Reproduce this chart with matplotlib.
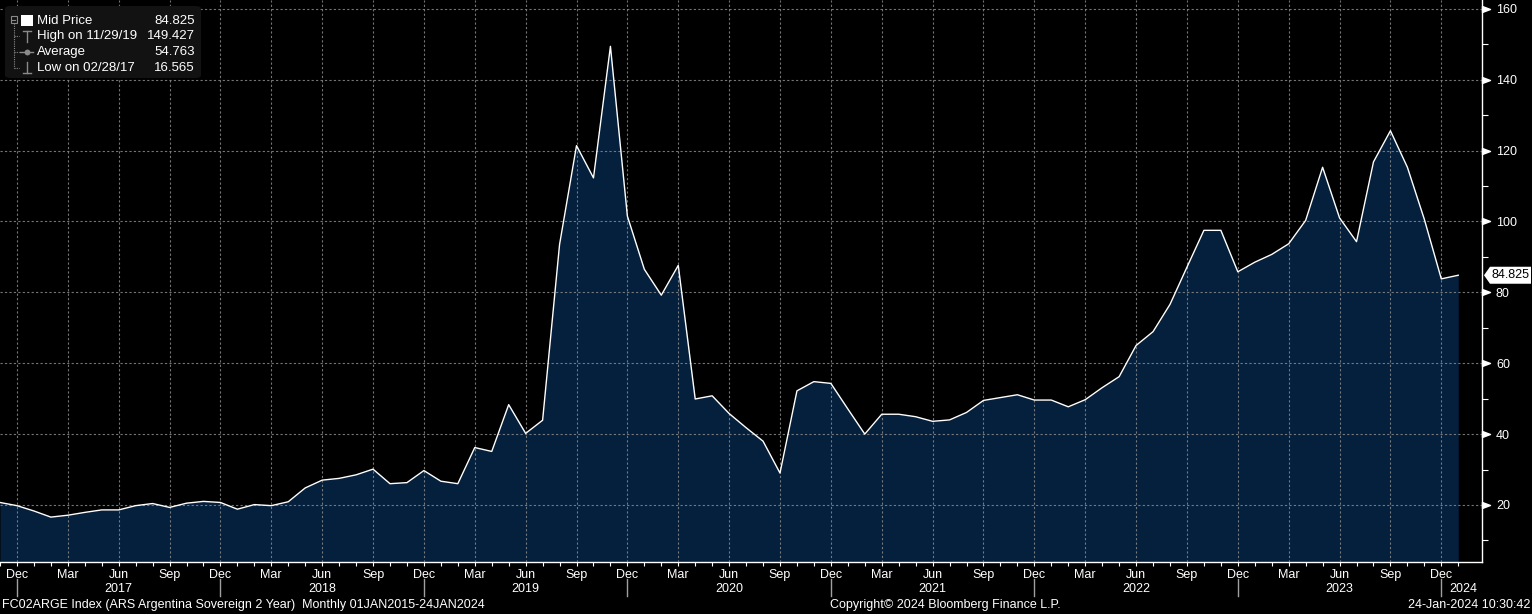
import numpy as np
import pandas as pd
from matplotlib import pyplot as plt
from matplotlib.transforms import blended_transform_factory
from matplotlib.patches import FancyBboxPatch, Polygon, Rectangle
from matplotlib.path import Path

# monthly mid price, Nov 2016 .. Jan 2024 (month-end values)
first_month = '2016-11-30'
mid_price = [20.7, 19.8,
             18.3, 16.57, 17.1, 17.9, 18.6, 18.6, 19.8, 20.4, 19.3, 20.5, 21.0, 20.7,
             18.8, 20.1, 19.8, 20.9, 24.8, 27.0, 27.5, 28.5, 30.1, 26.0, 26.3, 29.7,
             26.7, 26.0, 36.2, 35.1, 48.3, 40.2, 43.9, 93.5, 121.4, 112.3, 149.43, 101.5,
             86.5, 79.2, 87.6, 49.9, 50.8, 45.8, 41.8, 38.0, 29.0, 52.2, 54.8, 54.3,
             47.1, 40.0, 45.6, 45.6, 44.9, 43.6, 44.0, 46.1, 49.5, 50.3, 51.1, 49.6,
             49.6, 47.7, 49.7, 53.1, 56.2, 65.0, 68.9, 76.6, 87.1, 97.5, 97.5, 85.8,
             88.5, 90.7, 93.7, 100.3, 115.3, 101.0, 94.3, 116.8, 125.6, 115.3, 100.6, 83.8,
             84.825]

legend_rows = ['Mid Price', 'High on 11/29/19', 'Average', 'Low on 02/28/17']
legend_vals = ['84.825', '149.427', '54.763', '16.565']
y_ticks = [20, 40, 60, 80, 100, 120, 140, 160]

footer_left = 'FC02ARGE Index (ARS Argentina Sovereign 2 Year)  Monthly 01JAN2015-24JAN2024'
footer_mid = 'Copyright\u00a9 2024 Bloomberg Finance L.P.'
footer_right = '24-Jan-2024 10:30:42'

W, H = 1532, 614
FILL = '#04203d'
GRID = '#8a8a8a'
FONT = 'Liberation Sans'

plt.rcParams['font.family'] = [FONT, 'DejaVu Sans']

dates = pd.date_range(first_month, periods=len(mid_price), freq='ME')
x = np.arange(len(mid_price))

fig = plt.figure(figsize=(W / 100, H / 100), dpi=100, facecolor='black')
ax = fig.add_axes([0, (H - 562) / H, 1482 / W, 562 / H])
ax.set_facecolor('black')

ax.fill_between(x, mid_price, 0, color=FILL, lw=0, zorder=1)
ax.plot(x, mid_price, color='white', lw=1.0, zorder=3)

ax.set_xlim(0, 87.4)
ax.set_ylim(3.9, 162.5)

# x ticks: quarterly labels, monthly minor ticks
major = [i for i, d in enumerate(dates) if d.month in (3, 6, 9, 12)]
ax.set_xticks(major)
ax.set_xticklabels([dates[i].strftime('%b') for i in major])
ax.set_xticks(x, minor=True)
ax.tick_params(axis='x', which='both', colors='white', length=3, width=0.8,
               labelsize=9, pad=2)

# y axis on the right
ax.yaxis.tick_right()
ax.set_yticks(y_ticks)
ax.set_yticks(np.arange(10, 160, 20), minor=True)
ax.tick_params(axis='y', which='major', length=0, pad=10, labelsize=9, colors='white')
ax.tick_params(axis='y', which='minor', length=4, width=0.8, colors='white')

for s in ['left', 'top']:
    ax.spines[s].set_visible(False)
for s in ['right', 'bottom']:
    ax.spines[s].set_color('white')
    ax.spines[s].set_linewidth(1.0)

ax.grid(True, which='major', color=GRID, linestyle=(0, (2, 2)), lw=0.8, alpha=0.85, zorder=2)
ax.set_axisbelow(False)

# triangle markers on right axis
tri = Path([(0, -3), (8, 0), (0, 3), (0, -3)], [Path.MOVETO, Path.LINETO, Path.LINETO, Path.CLOSEPOLY])
yb = blended_transform_factory(ax.transAxes, ax.transData)
ax.plot(np.ones(len(y_ticks)), y_ticks, ls='none', marker=tri, ms=11.5, color='white',
        transform=yb, clip_on=False, zorder=5)

# year row
xb = blended_transform_factory(ax.transData, ax.transAxes)
yr_y = -(589 - 562) / 562
for i, d in enumerate(dates):
    if d.month == 6:
        ax.text(i, yr_y, str(d.year), transform=xb, ha='center', va='center',
                color='white', fontsize=9, clip_on=False)
    if d.month == 12:
        ax.plot([i, i], [-(579 - 562) / 562, -(596 - 562) / 562], transform=xb,
                color='#a0a0a0', lw=1, clip_on=False)
last = dates[-1]
if last.month < 6:
    ax.text(x[-1] - 0.5, yr_y, str(last.year), transform=xb, ha='left', va='center',
            color='white', fontsize=9, clip_on=False)

# last value label on the right axis
fig.canvas.draw()
px, py = ax.transData.transform((87.4, mid_price[-1]))
px += 2
box = Polygon([(px, py), (px + 6, py + 8.5), (W - 1, py + 8.5), (W - 1, py - 8.5), (px + 6, py - 8.5)],
              closed=True, fc='white', ec='none', transform=None, zorder=10)
fig.patches.append(box)
fig.text((px + 7) / W, py / H, '%.3f' % mid_price[-1], color='black', fontsize=9,
         ha='left', va='center', zorder=11)


def fp(xp, yp):
    return xp / W, 1 - yp / H


# legend panel
tf = fig.transFigure
fig.patches.append(FancyBboxPatch(fp(5, 78), 196 / W, 72 / H,
                                  boxstyle='round,pad=0,rounding_size=0.004',
                                  fc='#121212', ec='none', transform=tf, zorder=20))
rows_y = [20.5, 36.3, 52.3, 68.3]
for lab, val, yy in zip(legend_rows, legend_vals, rows_y):
    fig.text(*fp(37, yy), lab, color='white', fontsize=9.5, va='center', ha='left', zorder=21)
    fig.text(*fp(195, yy), val, color='white', fontsize=9.5, va='center', ha='right', zorder=21)

tree = '#8a8a8a'
fig.patches.append(Rectangle(fp(10.5, 22.5), 6 / W, 6 / H, fc='none', ec=tree, lw=0.8,
                             transform=tf, zorder=21))
fig.lines.append(plt.Line2D(*zip(fp(11.8, 19.5), fp(15.2, 19.5)), color=tree, lw=0.8, transform=tf, zorder=21))
fig.lines.append(plt.Line2D(*zip(fp(13.5, 23), fp(13.5, 68.3)), color=tree, lw=0.8,
                            ls=(0, (1, 1)), transform=tf, zorder=21))
for yy in rows_y[1:]:
    fig.lines.append(plt.Line2D(*zip(fp(13.5, yy), fp(19, yy)), color=tree, lw=0.8,
                                ls=(0, (1, 1)), transform=tf, zorder=21))
# icons
fig.patches.append(Rectangle(fp(21, 26), 12 / W, 11 / H, fc='white', ec='none', transform=tf, zorder=21))
fig.lines.append(plt.Line2D(*zip(fp(23, 31), fp(31, 31)), color=tree, lw=1, transform=tf, zorder=21))
fig.lines.append(plt.Line2D(*zip(fp(27, 31), fp(27, 42)), color=tree, lw=1, transform=tf, zorder=21))
fig.lines.append(plt.Line2D(*zip(fp(20, 52.3), fp(33, 52.3)), color=tree, lw=1, transform=tf, zorder=21))
fig.lines.append(plt.Line2D(*zip(fp(26.5, 52.3), fp(26.5, 52.3)), color=tree, marker='o', ms=3,
                            transform=tf, zorder=21))
fig.lines.append(plt.Line2D(*zip(fp(27, 62), fp(27, 73)), color=tree, lw=1, transform=tf, zorder=21))
fig.lines.append(plt.Line2D(*zip(fp(23, 73), fp(31, 73)), color=tree, lw=1, transform=tf, zorder=21))

# footer
fy = 1 - 605 / H
fig.text(2 / W, fy, footer_left, color='white', fontsize=9, ha='left', va='center')
fig.text(945 / W, fy, footer_mid, color='white', fontsize=9, ha='center', va='center')
fig.text(1530 / W, fy, footer_right, color='white', fontsize=9, ha='right', va='center')

fig.savefig('out.png', dpi=100, facecolor='black')
